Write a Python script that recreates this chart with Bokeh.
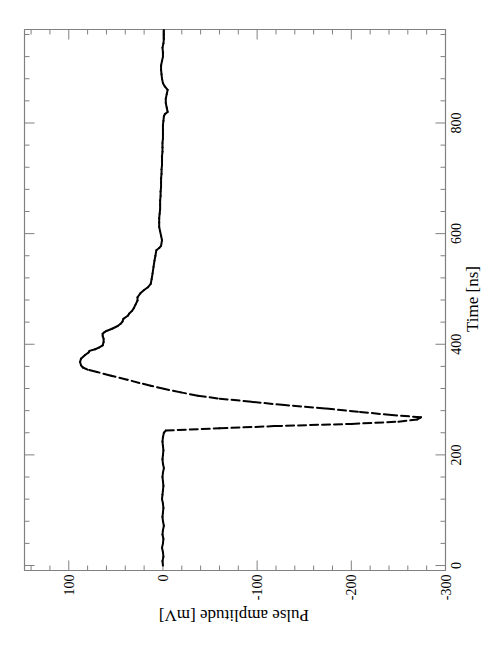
import math
from bokeh.plotting import figure
from bokeh.models import Range1d
from bokeh.embed import file_html
from bokeh.resources import INLINE

# ---- data ----
time_ns = [
    0, 8, 16, 24, 32, 40, 48, 56, 64, 72, 80, 88, 96, 104, 112, 120, 128, 136, 144, 152,
    160, 168, 176, 184, 192, 200, 208, 216, 224, 232, 240,
    244, 248, 252, 256, 260, 264, 268, 272, 278, 284, 290, 296, 302, 307, 313, 319,
    325, 330, 336, 343, 350, 354, 358, 362, 368, 374, 380, 385, 388, 391, 394, 398,
    404, 410, 415, 419, 422, 424, 428, 433, 437, 441, 446, 452, 455, 460, 465, 472,
    479, 485, 492, 498, 503, 509, 518, 528, 540, 551, 560, 570, 574, 578, 588, 596,
    604, 612, 620, 628, 636, 644, 652, 660, 668, 676, 684, 692, 700, 708, 716, 724,
    732, 740, 748, 756, 764, 772, 780, 788, 796, 804, 812, 816, 820, 828, 836, 844,
    852, 860, 866, 872, 880, 888, 896, 904, 912, 920, 928, 936, 944, 952, 960, 968,
]
amplitude_mv = [
    0, 0.5, -0.5, 0, 1, 0, -0.5, 0.5, 0, -1, 0, 0.5, 0, -0.5, 0, 1, 0.5, 0, -0.5, 0,
    0.5, 0, -1, 0, 0.5, 0, -0.5, 0, 0.5, 0, -1,
    -3, -60, -118, -200, -250, -270, -274, -243, -207, -172, -129, -94, -58, -37, -19, -2,
    13, 25, 38, 55, 70, 80, 85, 87, 88, 87, 83, 79, 78, 72, 68, 64,
    63, 63, 64, 64, 62, 60, 54, 48, 45, 43, 42, 37, 36, 33, 31, 29,
    27, 27, 24, 20, 16, 13, 12, 11, 10, 9, 8, 7, 4, 2, 1, 2,
    3, 4, 4, 4, 3.5, 3, 3, 3, 2.5, 2.5, 2, 2, 2, 1.5, 1.5, 1,
    1, 1, 0.5, 0.5, 0.5, 0, 0, 0, 0, -0.5, -1, -2, -5, -4, -3, -3,
    -4, -5, -2, 0, 1, 1.5, 2, 2, 1, 0, 0, 0.5, -0.5, -1, -1, -1,
]

amp_major_ticks = [100, 0, -100, -200, -300]
amp_tick_labels = ["100", "0", "-100", "-200", "-300"]
time_major_ticks = [0, 200, 400, 600, 800]
time_tick_labels = ["0", "200", "400", "600", "800"]

amp_title = "Pulse amplitude [mV]"
time_title = "Time [ns]"

# ---- axis ranges of the plot box ----
AMP_LEFT, AMP_RIGHT = 147, -300      # amplitude decreases to the right
T_BOTTOM, T_TOP = -9, 969            # time increases upwards
AMP_MINOR_STEP = 20
TIME_MINOR_STEP = 40

# ---- layout in canvas pixels ----
CW, CH = 490, 637
BOX_L, BOX_R, BOX_T, BOX_B = 24, 445, 29, 570
MAJOR_LEN, MINOR_LEN = 10, 5

FONT = "Liberation Serif"
GRAY = "#808080"

sx = (BOX_R - BOX_L) / (AMP_LEFT - AMP_RIGHT)   # px per mV
sy = (BOX_B - BOX_T) / (T_TOP - T_BOTTOM)       # px per ns


def amp_at(px):   # canvas x pixel -> amplitude
    return AMP_LEFT - (px - BOX_L) / sx


def time_at(py):  # canvas y pixel (from top) -> time
    return T_TOP - (py - BOX_T) / sy


p = figure(
    frame_width=CW, frame_height=CH,
    x_range=Range1d(amp_at(0), amp_at(CW)), y_range=Range1d(time_at(CH), time_at(0)),
    output_backend="svg", toolbar_location=None,
    x_axis_location=None, y_axis_location=None,
    min_border=0,
)
p.grid.visible = False
p.outline_line_color = None
p.background_fill_color = "white"
p.border_fill_color = "white"

# ---- plot box ----
p.quad(left=[AMP_LEFT], right=[AMP_RIGHT], bottom=[T_BOTTOM], top=[T_TOP],
       fill_color=None, line_color=GRAY, line_width=1.2)

# ---- ticks (inward, on all four sides) ----
amp_minor = [v for v in range(AMP_LEFT - AMP_LEFT % AMP_MINOR_STEP, AMP_RIGHT - 1, -AMP_MINOR_STEP)
             if v not in amp_major_ticks and AMP_RIGHT <= v <= AMP_LEFT]
time_minor = [v for v in range(0, T_TOP + 1, TIME_MINOR_STEP) if v not in time_major_ticks]

for vals, ln in ((amp_major_ticks, MAJOR_LEN), (amp_minor, MINOR_LEN)):
    d = ln / sy
    p.segment(x0=vals, y0=[T_BOTTOM] * len(vals), x1=vals, y1=[T_BOTTOM + d] * len(vals),
              line_color=GRAY, line_width=1)
    p.segment(x0=vals, y0=[T_TOP] * len(vals), x1=vals, y1=[T_TOP - d] * len(vals),
              line_color=GRAY, line_width=1)

for vals, ln in ((time_major_ticks, MAJOR_LEN), (time_minor, MINOR_LEN)):
    d = ln / sx
    p.segment(x0=[AMP_RIGHT] * len(vals), y0=vals, x1=[AMP_RIGHT + d] * len(vals), y1=vals,
              line_color=GRAY, line_width=1)
    p.segment(x0=[AMP_LEFT] * len(vals), y0=vals, x1=[AMP_LEFT - d] * len(vals), y1=vals,
              line_color=GRAY, line_width=1)

# ---- tick labels (rotated 90 degrees counter-clockwise) ----
p.text(x=amp_major_ticks, y=[time_at(BOX_B + 4)] * len(amp_major_ticks), text=amp_tick_labels,
       angle=math.pi / 2, text_align="right", text_baseline="middle",
       text_font={"value": FONT}, text_font_size={"value": "14px"}, text_color="black")
p.text(x=[amp_at(BOX_R + 5)] * len(time_major_ticks), y=time_major_ticks, text=time_tick_labels,
       angle=math.pi / 2, text_align="center", text_baseline="top",
       text_font={"value": FONT}, text_font_size={"value": "14px"}, text_color="black")

# ---- axis titles ----
p.text(x=[amp_at(233.5)], y=[time_at(615)], text=[amp_title],
       angle=math.pi, text_align="center", text_baseline="middle",
       text_font={"value": FONT}, text_font_size={"value": "17px"}, text_color="black")
p.text(x=[amp_at(471.5)], y=[time_at(298.5)], text=[time_title],
       angle=math.pi / 2, text_align="center", text_baseline="middle",
       text_font={"value": FONT}, text_font_size={"value": "17px"}, text_color="black")

# ---- the pulse, drawn as individual dashed segments ----
p.segment(
    x0=amplitude_mv[:-1], y0=time_ns[:-1], x1=amplitude_mv[1:], y1=time_ns[1:],
    line_color="black", line_width=2, line_dash="8 4", line_cap="round",
)

open("out.html", "w").write(file_html(p, INLINE))
